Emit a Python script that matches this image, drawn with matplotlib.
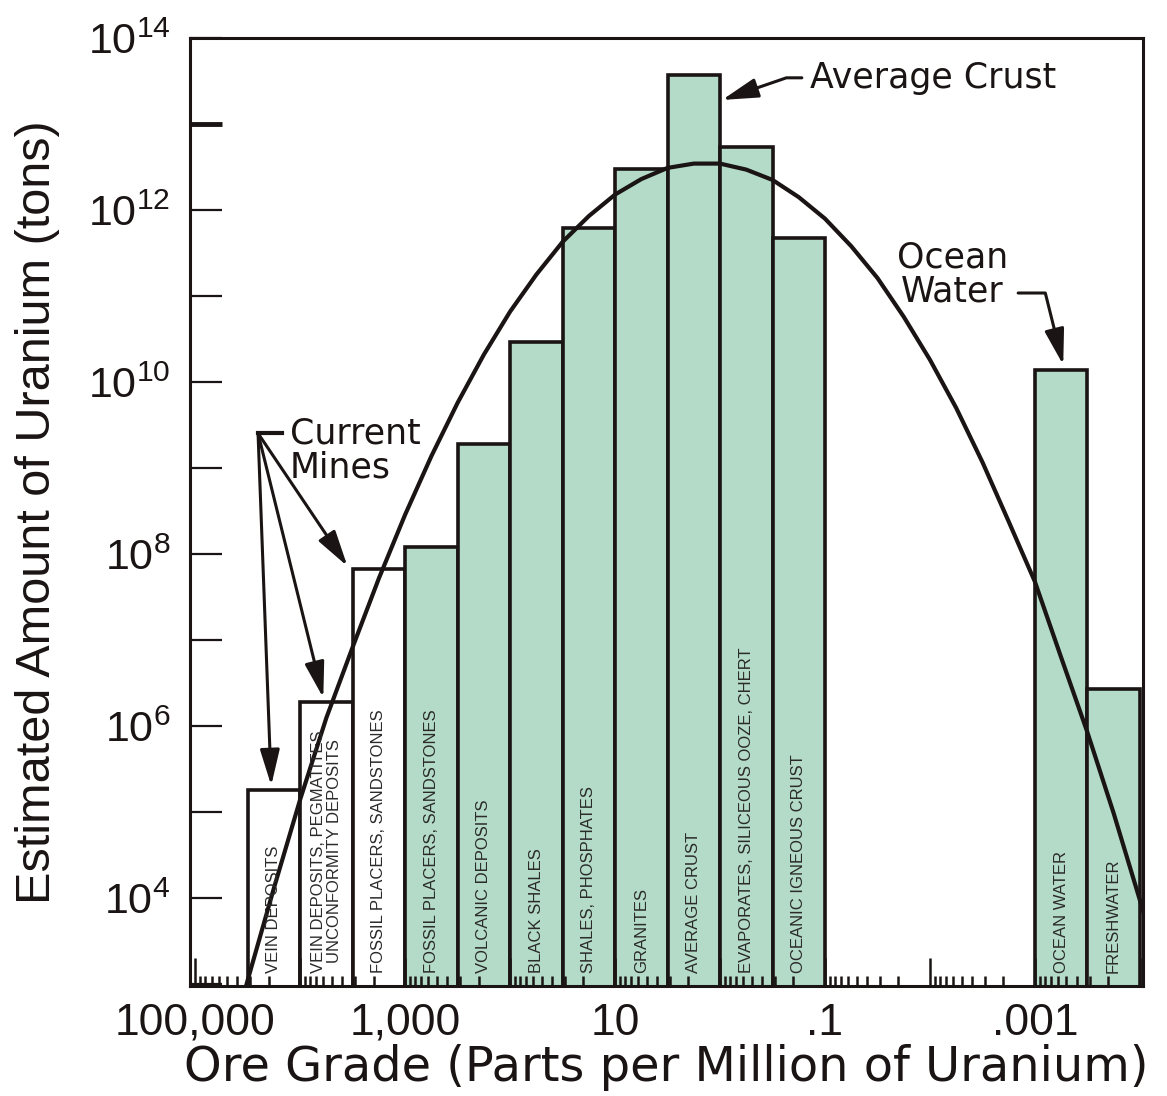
import matplotlib
matplotlib.use("Agg")
import matplotlib.pyplot as plt
import matplotlib.transforms as mtransforms
from matplotlib import font_manager
import numpy as np

# ore grade bins (log10 ppm), upper and lower edge of each bar
bin_hi = [4.5, 4.0, 3.5, 3.0, 2.5, 2.0, 1.5, 1.0, 0.5, 0.0, -0.5, -3.0, -3.5]
bin_lo = [4.0, 3.5, 3.0, 2.5, 2.0, 1.5, 1.0, 0.5, 0.0, -0.5, -1.0, -3.5, -4.0]
tons = [1.8e5, 1.9e6, 6.7e7, 1.2e8, 1.9e9, 2.9e10, 6.2e11, 3.0e12,
        3.7e13, 5.4e12, 4.7e11, 1.4e10, 2.7e6]
current_mine = [True, True, True] + [False] * 10
bar_labels = [
    "VEIN DEPOSITS",
    "VEIN DEPOSITS, PEGMATITES\nUNCONFORMITY DEPOSITS",
    "FOSSIL PLACERS, SANDSTONES",
    "FOSSIL PLACERS, SANDSTONES",
    "VOLCANIC DEPOSITS",
    "BLACK SHALES",
    "SHALES, PHOSPHATES",
    "GRANITES",
    "AVERAGE CRUST",
    "EVAPORATES, SILICEOUS OOZE, CHERT",
    "OCEANIC IGNEOUS CRUST",
    "OCEAN WATER",
    "FRESHWATER",
]

# fitted distribution curve (log10 grade, log10 tons)
curve_g = [4.6, 4.5, 4.25, 4.0, 3.75, 3.5, 3.25, 3.0, 2.75, 2.5, 2.25, 2.0,
           1.75, 1.5, 1.25, 1.0, 0.75, 0.5, 0.25, 0.0, -0.25, -0.5, -0.75,
           -1.0, -1.25, -1.5, -1.75, -2.0, -2.25, -2.5, -2.75, -3.0, -3.25,
           -3.5, -3.75, -4.0, -4.1]
curve_t = [2.6, 3.05, 4.12, 5.15, 6.1, 6.92, 7.72, 8.46, 9.14, 9.76, 10.32,
           10.82, 11.25, 11.63, 11.93, 12.18, 12.36, 12.49, 12.54, 12.54,
           12.47, 12.35, 12.15, 11.9, 11.58, 11.21, 10.76, 10.26, 9.7, 9.07,
           8.38, 7.68, 6.8, 5.93, 4.99, 3.98, 3.57]

x_major = [5, 4, 3, 2, 1, 0, -1, -2, -3, -4]
x_labels = {5: "100,000", 3: "1,000", 1: "10", -1: ".1", -3: ".001"}
y_major = list(range(3, 15))

names = {f.name for f in font_manager.fontManager.ttflist}
NARROW = "Liberation Sans Narrow" if "Liberation Sans Narrow" in names else "Liberation Sans"
WIDE = ["DejaVu Sans"]
plt.rcParams["font.family"] = ["Liberation Sans", "DejaVu Sans"]

GREEN = "#b3dbc7"
INK = "#1a1414"

fig = plt.figure(figsize=(11.67, 10.96), dpi=100)
ax = fig.add_axes([190 / 1167, 110 / 1096, 953 / 1167, 948 / 1096])
ax.set_xscale("log")
ax.set_yscale("log")

hi = 10.0 ** np.array(bin_hi)
lo = 10.0 ** np.array(bin_lo)
colors = ["white" if c else GREEN for c in current_mine]
ax.bar(lo, tons, width=hi - lo, bottom=1.0, align="edge", color=colors,
       edgecolor=INK, linewidth=2.6, zorder=1)

ax.plot(10.0 ** np.array(curve_g), 10.0 ** np.array(curve_t), color=INK,
        lw=3.0, zorder=3, solid_capstyle="butt")

ax.set_xlim(10 ** 5.05, 10 ** -4.03)
ax.set_ylim(10 ** 2.98, 1e14)

# bar captions, rotated, sitting on the bottom axis
trans = mtransforms.blended_transform_factory(ax.transData, ax.transAxes)
for h, l, lab in zip(hi, lo, bar_labels):
    ax.text(np.sqrt(h * l), 0.014, lab, rotation=90, ha="center", va="bottom",
            transform=trans, fontsize=12, family=[NARROW, "DejaVu Sans"],
            color="#2a2a2a", linespacing=1.05, zorder=4)

# ticks
ax.set_xticks([10.0 ** e for e in x_major],
              labels=[x_labels.get(e, "") for e in x_major])
ax.xaxis.set_minor_locator(matplotlib.ticker.LogLocator(base=10, subs=np.arange(2, 10), numticks=30))
ax.xaxis.set_minor_formatter(matplotlib.ticker.NullFormatter())
ax.tick_params(axis="x", which="major", direction="in", length=20, width=1.8,
               pad=12, labelsize=32, colors=INK)
ax.tick_params(axis="x", which="minor", direction="in", length=7, width=1.8,
               colors=INK)
for lab in ax.get_xticklabels():
    lab.set_family([NARROW, "DejaVu Sans"])

ax.set_yticks([10.0 ** e for e in y_major],
              labels=[r"$\mathregular{10^{%d}}$" % e if e % 2 == 0 else "" for e in y_major])
ax.yaxis.set_minor_locator(matplotlib.ticker.NullLocator())
ax.tick_params(axis="y", which="major", direction="in", length=23, width=1.6,
               pad=14, labelsize=31, colors=INK)
for t in ax.yaxis.get_major_ticks():
    if abs(np.log10(t.get_loc()) - 13) < 0.01:
        t.tick1line.set_markeredgewidth(3.5)

for s in ax.spines.values():
    s.set_linewidth(2.2)
    s.set_color(INK)

ax.set_xlabel("Ore Grade (Parts per Million of Uranium)", fontsize=34.5,
              family=WIDE, color=INK, labelpad=0)
ax.set_ylabel("Estimated Amount of Uranium (tons)", fontsize=35, color=INK)
ax.yaxis.set_label_coords(-0.136, 0.50)

# annotations
arrow = dict(arrowstyle="-|>,head_length=1.1,head_width=0.3", color=INK,
             lw=2.2, mutation_scale=20, shrinkA=0, shrinkB=0)

ax.text(0.651, 0.958, "Average Crust", transform=ax.transAxes, fontsize=25,
        family=WIDE, ha="left", va="center", color=INK)
ax.annotate("", xy=(10 ** -0.02, 10 ** 13.28), xycoords="data",
            xytext=(0.642, 0.958), textcoords="axes fraction",
            arrowprops=dict(arrow, connectionstyle="angle,angleA=0,angleB=19,rad=0"))

ax.text(0.800, 0.750, "Ocean\nWater", transform=ax.transAxes, fontsize=25,
        family=WIDE, ha="center", va="center", color=INK, linespacing=1.0)
ax.annotate("", xy=(10 ** -3.27, 10 ** 10.2), xycoords="data",
            xytext=(0.869, 0.731), textcoords="axes fraction",
            arrowprops=dict(arrow, connectionstyle="angle,angleA=0,angleB=104,rad=0"))

ax.text(0.105, 0.565, "Current\nMines", transform=ax.transAxes, fontsize=25,
        family=WIDE, ha="left", va="center", color=INK, linespacing=1.0)
hub = (0.0714, 0.583)
ax.plot([hub[0], 0.097], [hub[1], hub[1]], transform=ax.transAxes, color=INK,
        lw=3, clip_on=False)
for tip in [(10 ** 4.276, 10 ** 5.31), (10 ** 3.78, 10 ** 6.33), (10 ** 3.55, 10 ** 7.86)]:
    ax.annotate("", xy=tip, xycoords="data", xytext=hub,
                textcoords="axes fraction", arrowprops=arrow)

fig.savefig("out.png", dpi=100)
